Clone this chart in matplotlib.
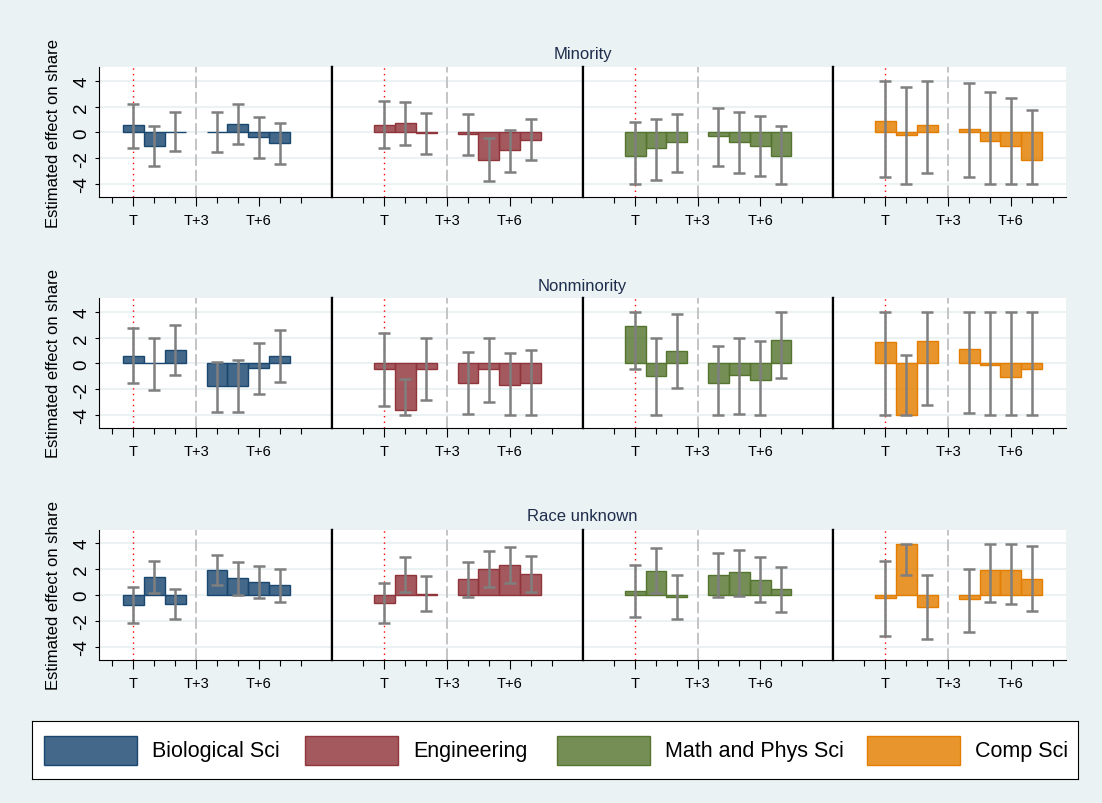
import numpy as np
import matplotlib
matplotlib.use("Agg")
import matplotlib.pyplot as plt
from matplotlib.patches import Rectangle

plt.rcParams["font.family"] = ["Liberation Sans", "DejaVu Sans"]

# ---------------------------------------------------------------- data
fields = ["Biological Sci", "Engineering", "Math and Phys Sci", "Comp Sci"]
groups = ["Minority", "Nonminority", "Race unknown"]
periods = [0, 1, 2, 4, 5, 6, 7]          # years relative to T
tick_major = [0, 3, 6]
tick_major_labels = ["T", "T+3", "T+6"]
tick_minor = [-1, 1, 2, 4, 5, 7, 8]
y_ticks = [-4, -2, 0, 2, 4]

minority_est = {
    "Biological Sci":    [0.57, -1.08, 0.06, 0.05, 0.62, -0.39, -0.85],
    "Engineering":       [0.57, 0.72, -0.05, -0.10, -2.11, -1.39, -0.57],
    "Math and Phys Sci": [-1.80, -1.24, -0.77, -0.31, -0.72, -1.03, -1.80],
    "Comp Sci":          [0.88, -0.21, 0.54, 0.23, -0.69, -1.08, -2.11],
}
minority_lo = {
    "Biological Sci":    [-1.18, -2.63, -1.47, -1.52, -0.93, -1.96, -2.42],
    "Engineering":       [-1.21, -0.95, -1.65, -1.72, -3.73, -3.04, -2.16],
    "Math and Phys Sci": [-4.00, -3.66, -3.09, -2.63, -3.14, -3.37, -4.00],
    "Comp Sci":          [-3.42, -4.00, -3.14, -3.42, -4.00, -4.00, -4.00],
}
minority_hi = {
    "Biological Sci":    [2.16, 0.51, 1.54, 1.54, 2.16, 1.18, 0.72],
    "Engineering":       [2.42, 2.32, 1.49, 1.39, -0.46, 0.21, 1.03],
    "Math and Phys Sci": [0.82, 1.03, 1.44, 1.90, 1.54, 1.29, 0.46],
    "Comp Sci":          [3.99, 3.55, 4.00, 3.86, 3.09, 2.65, 1.70],
}

nonminority_est = {
    "Biological Sci":    [0.59, 0.03, 1.06, -1.78, -1.73, -0.34, 0.59],
    "Engineering":       [-0.44, -3.64, -0.44, -1.55, -0.44, -1.68, -1.52],
    "Math and Phys Sci": [2.92, -1.00, 0.96, -1.52, -0.90, -1.27, 1.83],
    "Comp Sci":          [1.65, -4.00, 1.71, 1.11, -0.13, -1.09, -0.47],
}
nonminority_lo = {
    "Biological Sci":    [-1.50, -2.04, -0.90, -3.80, -3.75, -2.40, -1.42],
    "Engineering":       [-3.31, -4.00, -2.84, -3.95, -2.97, -3.98, -3.98],
    "Math and Phys Sci": [-0.41, -3.98, -1.91, -3.98, -3.93, -3.98, -1.14],
    "Comp Sci":          [-3.98, -3.98, -3.20, -3.85, -3.98, -4.00, -4.00],
}
nonminority_hi = {
    "Biological Sci":    [2.76, 1.99, 2.97, 0.10, 0.28, 1.58, 2.58],
    "Engineering":       [2.38, -1.21, 1.94, 0.90, 1.99, 0.80, 1.03],
    "Math and Phys Sci": [4.00, 1.99, 3.85, 1.37, 1.99, 1.76, 4.00],
    "Comp Sci":          [4.00, 0.62, 4.00, 4.00, 4.00, 4.00, 4.00],
}

unknown_est = {
    "Biological Sci":    [-0.80, 1.42, -0.72, 1.94, 1.32, 1.00, 0.75],
    "Engineering":       [-0.59, 1.57, 0.10, 1.21, 2.04, 2.30, 1.63],
    "Math and Phys Sci": [0.28, 1.88, -0.18, 1.52, 1.75, 1.16, 0.44],
    "Comp Sci":          [-0.26, 3.97, -0.90, -0.31, 1.96, 1.91, 1.24],
}
unknown_lo = {
    "Biological Sci":    [-2.14, 0.18, -1.86, 0.75, 0.00, -0.21, -0.52],
    "Engineering":       [-2.14, 0.26, -1.21, -0.13, 0.65, 0.90, 0.26],
    "Math and Phys Sci": [-1.68, 0.13, -1.86, -0.18, -0.05, -0.57, -1.34],
    "Comp Sci":          [-3.17, 1.52, -3.35, -2.84, -0.57, -0.67, -1.26],
}
unknown_hi = {
    "Biological Sci":    [0.59, 2.66, 0.49, 3.12, 2.55, 2.25, 2.01],
    "Engineering":       [0.95, 2.97, 1.47, 2.55, 3.38, 3.69, 3.02],
    "Math and Phys Sci": [2.32, 3.64, 1.52, 3.25, 3.48, 2.92, 2.19],
    "Comp Sci":          [2.63, 3.97, 1.52, 2.04, 3.97, 3.97, 3.82],
}

estimates = [minority_est, nonminority_est, unknown_est]
lowers = [minority_lo, nonminority_lo, unknown_lo]
uppers = [minority_hi, nonminority_hi, unknown_hi]

# ---------------------------------------------------------------- style
edge_colors = {
    "Biological Sci": "#1a476f",
    "Engineering": "#90353b",
    "Math and Phys Sci": "#55752f",
    "Comp Sci": "#e37e00",
}
BG = "#eaf2f3"
TITLE_COLOR = "#1f2d4d"
CI_COLOR = "#7f7f7f"

W, H = 1102, 804
fig = plt.figure(figsize=(W / 100, H / 100), dpi=100)
fig.patch.set_facecolor(BG)


def px_axes(x0, x1, y0, y1):
    return fig.add_axes([x0 / W, 1 - y1 / H, (x1 - x0) / W, (y1 - y0) / H])


panel_x = [(99.3, 332.0), (332.0, 583.0), (583.0, 833.0), (833.0, 1066.0)]
panel_xlim = [(-1.63, 9.5), (-2.5, 9.5), (-2.5, 9.5), (-2.5, 8.63)]
row_y = [(68.3, 197.7), (299.3, 428.7), (530.7, 660.7)]
title_y = [55, 286.5, 516.5]

for r, group in enumerate(groups):
    y0, y1 = row_y[r]
    for c, field in enumerate(fields):
        x0, x1 = panel_x[c]
        ax = px_axes(x0, x1, y0, y1)
        ax.set_facecolor("white")
        ax.set_xlim(*panel_xlim[c])
        ax.set_ylim(-4.98, 5.04)

        for yv in y_ticks:
            ax.axhline(yv, color=BG, lw=1.5, zorder=0)

        ax.axvline(0, color="red", lw=1.0, ls=(0, (1, 3)), zorder=1)
        ax.axvline(3, color="#c4c4c4", lw=1.4, ls=(0, (6, 2)), zorder=1)

        est = np.array(estimates[r][field])
        lo = np.array(lowers[r][field])
        hi = np.array(uppers[r][field])
        ec = edge_colors[field]
        ax.bar(periods, est, width=1.0, color=ec, alpha=0.82,
               edgecolor="none", zorder=2)
        ax.bar(periods, est, width=1.0, color="none", edgecolor=ec,
               linewidth=1.0, zorder=2.5)
        mid = (lo + hi) / 2
        ax.errorbar(periods, mid, yerr=(hi - lo) / 2, fmt="none",
                    ecolor=CI_COLOR, elinewidth=1.8, capsize=4,
                    capthick=1.8, zorder=3)

        # axes frame
        ax.spines["top"].set_visible(False)
        ax.spines["bottom"].set_linewidth(0.8)
        ax.spines["bottom"].set_zorder(5)
        if c == 0:
            ax.spines["left"].set_linewidth(0.8)
        else:
            ax.spines["left"].set_linewidth(1.6)
        if c == 3:
            ax.spines["right"].set_visible(False)
        else:
            ax.spines["right"].set_linewidth(1.6)
        for s in ax.spines.values():
            s.set_color("black")

        ax.set_xticks(tick_major)
        ax.set_xticklabels(tick_major_labels, fontsize=10.5)
        ax.set_xticks(tick_minor, minor=True)
        ax.tick_params(axis="x", which="major", length=6.5, width=0.8, pad=5)
        ax.tick_params(axis="x", which="minor", length=4, width=0.8)

        if c == 0:
            ax.set_yticks(y_ticks)
            ax.set_yticklabels([str(v) for v in y_ticks], fontsize=13.5,
                               rotation=90, va="center")
            ax.tick_params(axis="y", length=3, width=0.8, pad=3.5)
        else:
            ax.set_yticks([])

    fig.text(54 / W, 1 - (y0 + y1) / 2 / H, "Estimated effect on share",
             rotation=90, ha="center", va="center", fontsize=12)
    fig.text(582.7 / W, 1 - title_y[r] / H, group, ha="center", va="center",
             fontsize=12, color=TITLE_COLOR)

# ---------------------------------------------------------------- legend
lax = px_axes(32, 1078, 722, 780)
lax.set_xlim(32, 1078)
lax.set_ylim(780, 722)
lax.set_facecolor("white")
for s in lax.spines.values():
    s.set_color("black")
    s.set_linewidth(0.8)
lax.set_xticks([])
lax.set_yticks([])
legend_x = [44, 305, 557, 867]
for field, lx in zip(fields, legend_x):
    ec = edge_colors[field]
    lax.add_patch(Rectangle((lx, 737), 93, 29, facecolor=ec, alpha=0.82,
                            edgecolor="none"))
    lax.add_patch(Rectangle((lx, 737), 93, 29, facecolor="none",
                            edgecolor=ec, lw=1.0))
    lax.text(lx + 108, 751.5, field, ha="left", va="center", fontsize=15.5)

fig.savefig("out.png", dpi=100, facecolor=BG)
